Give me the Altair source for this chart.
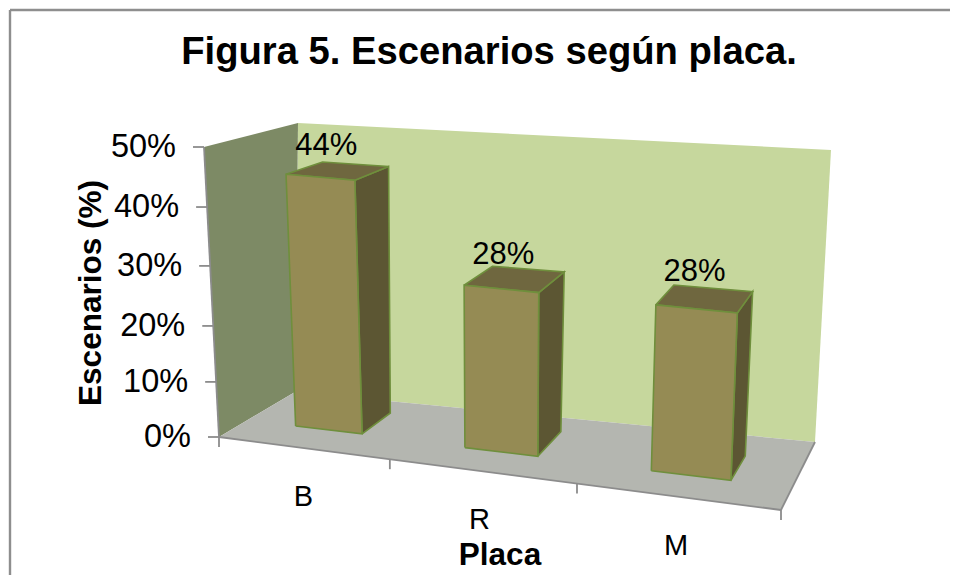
import altair as alt
import pandas as pd

# ---- chart values ----
categories = ["B", "R", "M"]
values = [44, 28, 28]
value_labels = ["44%", "28%", "28%"]
y_ticks = [0, 10, 20, 30, 40, 50]
y_tick_labels = ["0%", "10%", "20%", "30%", "40%", "50%"]
title = "Figura 5. Escenarios según placa."
x_title = "Placa"
y_title = "Escenarios (%)"
z_max = 50

# ---- 3D view: page pixels of the box corners (floor / top) ----
FL, FR, BL, BR = (218, 436), (780, 509), (294, 391), (814, 441)
TFL, TFR, TBL, TBR = (203, 146), (793, 204), (297, 122), (830, 149)
axis_u = [0, 0.304, 0.637, 1]            # category boundaries after perspective
axis_z = [0, 0.19, 0.383, 0.59, 0.793, 1]  # value gridline heights after perspective
bar_front = [0.37, 0.345, 0.33]
bar_back = [0.79, 0.775, 0.70]
bar_span = (0.292, 0.692)
top_lean = [(-4, -2), (-1, 0), (0, 0)]     # extra perspective lean of each bar's top
label_nudge = [(-4, 0), (-1, 3), (1, 0)]
cat_nudge = [-1, -4, -3]


def bil(a, b, c, d, u, v):
    return tuple((1-u)*(1-v)*a[i] + u*(1-v)*b[i] + (1-u)*v*c[i] + u*v*d[i] for i in (0, 1))


def P(u, v, z):
    lo = bil(FL, FR, BL, BR, u, v)
    hi = bil(TFL, TFR, TBL, TBR, u, v)
    return tuple(lo[i] + (hi[i] - lo[i]) * z for i in (0, 1))


rows = []


def face(name, pts, fill, stroke="none", sw=0):
    for i, p in enumerate(list(pts) + [pts[0]]):
        rows.append(dict(face=name, i=i, x=p[0], y=p[1], fill=fill, stroke=stroke, sw=sw))


WALL, SIDE, FLOOR = "#c6d79d", "#7d8a65", "#b4b6b0"
FRONT, TOP, RIGHT, EDGE = "#958b54", "#6f673f", "#5c5633", "#6f8f3c"
face("a_back", [BL, BR, TBR, TBL], WALL)
face("b_side", [FL, BL, TBL, TFL], SIDE)
face("c_floor", [FL, FR, BR, BL], FLOOR)

for k, val in enumerate(values):
    span = axis_u[k+1] - axis_u[k]
    u0 = axis_u[k] + span * bar_span[0]
    u1 = axis_u[k] + span * bar_span[1]
    v0, v1, z = bar_front[k], bar_back[k], val / z_max
    dx, dy = top_lean[k]

    def T(u, v):
        p = P(u, v, z)
        return (p[0] + dx, p[1] + dy)

    face(f"d{k}_right", [P(u1, v0, 0), P(u1, v1, 0), T(u1, v1), T(u1, v0)], RIGHT, EDGE, 1.6)
    face(f"e{k}_top", [T(u0, v0), T(u1, v0), T(u1, v1), T(u0, v1)], TOP, EDGE, 1.6)
    face(f"f{k}_front", [P(u0, v0, 0), P(u1, v0, 0), T(u1, v0), T(u0, v0)], FRONT, EDGE, 1.6)

faces = pd.DataFrame(rows)

W, H = 941, 566
X = alt.X("x:Q", scale=alt.Scale(domain=[8, 8 + W], range=[0, W]), axis=None)
Y = alt.Y("y:Q", scale=alt.Scale(domain=[8, 8 + H], range=[0, H]), axis=None)
X2, Y2 = alt.X2("x2:Q"), alt.Y2("y2:Q")

poly = alt.Chart(faces).mark_line(strokeJoin="miter", clip=False).encode(
    x=X, y=Y, order="i:Q", detail="face:N",
    fill=alt.Fill("fill:N", scale=None),
    stroke=alt.Stroke("stroke:N", scale=None),
    strokeWidth=alt.StrokeWidth("sw:Q", scale=None),
)

# axis and frame lines
lines = [
    dict(x=P(0, 0, 0)[0], y=P(0, 0, 0)[1], x2=P(0, 0, 1)[0], y2=P(0, 0, 1)[1]),
    dict(x=FL[0], y=FL[1], x2=FR[0], y2=FR[1]),
    dict(x=FR[0], y=FR[1], x2=BR[0], y2=BR[1]),
]
for u in axis_u:
    p = P(u, 0, 0)
    lines.append(dict(x=p[0], y=p[1], x2=p[0], y2=p[1] + 10))
for z in axis_z:
    p = P(0, 0, z)
    lines.append(dict(x=p[0] - 11, y=p[1], x2=p[0], y2=p[1]))
axes = alt.Chart(pd.DataFrame(lines)).mark_rule(color="#8c8c8c", strokeWidth=1.8, clip=False).encode(
    x=X, y=Y, x2=X2, y2=Y2
)

frame = alt.Chart(pd.DataFrame([
    dict(x=9, y=9, x2=8 + W, y2=9),
    dict(x=9, y=9, x2=9, y2=8 + H),
])).mark_rule(color="#8e8e8e", strokeWidth=2.4, clip=False).encode(x=X, y=Y, x2=X2, y2=Y2)


def text_layer(df, **kw):
    return alt.Chart(pd.DataFrame(df)).mark_text(font="Liberation Sans", color="#000000", clip=False, **kw).encode(
        x=X, y=Y, text="t:N"
    )


y_lab = [dict(x=P(0, 0, z)[0] - 28, y=P(0, 0, z)[1], t=t) for z, t in zip(axis_z, y_tick_labels)]
bar_lab = []
for k, t in enumerate(value_labels):
    span = axis_u[k+1] - axis_u[k]
    p = P(axis_u[k] + span * 0.5, (bar_front[k] + bar_back[k]) / 2, values[k] / z_max)
    bar_lab.append(dict(x=p[0] - 13 + label_nudge[k][0], y=p[1] - 27 + label_nudge[k][1], t=t))
x_lab = []
for k, t in enumerate(categories):
    p = P(axis_u[k] + (axis_u[k+1] - axis_u[k]) * 0.5, 0, 0)
    x_lab.append(dict(x=p[0] + cat_nudge[k], y=p[1] + 49, t=t))

layers = [
    frame, poly, axes,
    text_layer(y_lab, align="right", baseline="middle", fontSize=32.5),
    text_layer(bar_lab, align="center", baseline="middle", fontSize=31),
    text_layer(x_lab, align="center", baseline="middle", fontSize=29),
    text_layer([dict(x=488, y=52, t=title)], align="center", baseline="middle", fontSize=38.2, fontWeight="bold"),
    text_layer([dict(x=499, y=555, t=x_title)], align="center", baseline="middle", fontSize=31.5, fontWeight="bold"),
    text_layer([dict(x=91, y=292, t=y_title)], align="center", baseline="middle", fontSize=31.5, fontWeight="bold", angle=270),
]

chart = alt.layer(*layers).properties(
    width=W, height=H, padding=0, background="#ffffff"
).configure_view(stroke=None)

chart.save("out.html", embed_options={"renderer": "svg", "actions": False})
